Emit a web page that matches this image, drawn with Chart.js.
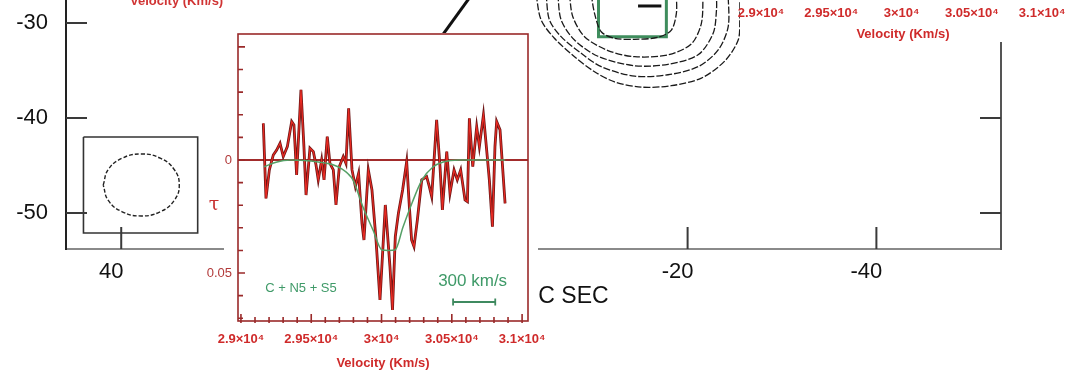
<!DOCTYPE html>
<html>
<head>
<meta charset="utf-8">
<script src="https://cdn.jsdelivr.net/npm/chart.js@4"></script>
<style>
  body { margin: 0; background: #fff; width: 1082px; height: 373px; overflow: hidden; position: relative; }
  canvas { position: absolute; }
  #map { left: 0; top: 0; }
  #spec { left: 200px; top: 20px; }
  #specTop { left: 720px; top: -306px; }
  #cutTitle { position: absolute; left: 130px; top: -7px; font: bold 13px "Liberation Sans", sans-serif; color: #d03434; white-space: nowrap; }
</style>
</head>
<body>
<canvas id="map" width="1082" height="373"></canvas>
<canvas id="spec" width="345" height="353"></canvas>
<canvas id="specTop" width="362" height="353"></canvas>
<div id="cutTitle">Velocity (Km/s)</div>
<script>
// ---- spectrum: velocity (km/s) vs optical depth tau ----
const velocity = [29159, 29178, 29202, 29230, 29254, 29278, 29301, 29330, 29361, 29377,
  29396, 29427, 29448, 29463, 29491, 29515, 29534, 29550, 29574, 29591,
  29614, 29633, 29657, 29676, 29700, 29728, 29747, 29766, 29790, 29814,
  29837, 29861, 29875, 29906, 29932, 29961, 29989, 30027, 30060, 30078,
  30098, 30120, 30150, 30179, 30198, 30214, 30231, 30255, 30286, 30321,
  30340, 30357, 30392, 30416, 30433, 30464, 30487, 30516, 30539, 30563,
  30594, 30611, 30625, 30649, 30677, 30696, 30725, 30748, 30767, 30789,
  30807, 30819, 30843, 30879];
const tau = [-0.0162, 0.0170, 0.0044, -0.0022, -0.0044, -0.0074, -0.0015, -0.0059, -0.0170, -0.0155,
  0.0066, -0.0310, -0.0059, 0.0155, -0.0052, -0.0037, 0.0022, 0.0088, 0.0000, 0.0088,
  -0.0103, 0.0015, 0.0044, 0.0199, 0.0029, -0.0015, 0.0015, -0.0228, 0.0044, 0.0118,
  0.0059, 0.0280, 0.0354, 0.0044, 0.0133, 0.0354, 0.0619, 0.0199, 0.0472, 0.0663,
  0.0339, 0.0236, 0.0133, 0.0007, 0.0206, 0.0354, 0.0383, 0.0265, 0.0088, 0.0074,
  0.0118, 0.0162, -0.0177, 0.0029, 0.0221, -0.0037, 0.0147, 0.0044, 0.0088, 0.0044,
  0.0177, 0.0184, -0.0184, 0.0029, -0.0147, -0.0059, -0.0199, -0.0044, 0.0088, 0.0295,
  -0.0059, -0.0170, -0.0133, 0.0192];

// fitted profile (C + N5 + S5)
const fitVelocity = [29165, 29250, 29350, 29500, 29650, 29720, 29760, 29797, 29868, 29939,
  30003, 30050, 30096, 30153, 30217, 30288, 30366, 30438, 30550, 30700, 30880];
const fitTau = [0.003, 0.001, 0.0, 0.0005, 0.002, 0.004, 0.006, 0.0088, 0.0208, 0.0309,
  0.0398, 0.0400, 0.0398, 0.0296, 0.0190, 0.0088, 0.0031, 0.0009, 0.0, 0.0, 0.0];

// 300 km/s scale bar
const barVelocity = [30509, 30809];
const barTau = [0.0628, 0.0628];

// spectrum axes
const velTicks = [29000, 29100, 29200, 29300, 29400, 29500, 29600, 29700, 29800, 29900,
  30000, 30100, 30200, 30300, 30400, 30500, 30600, 30700, 30800, 30900, 31000];
const velMajor = [29000, 29500, 30000, 30500, 31000];
const velLabels = ['2.9×10⁴', '2.95×10⁴', '3×10⁴', '3.05×10⁴', '3.1×10⁴'];
const tauTicks = [-0.05, -0.04, -0.03, -0.02, -0.01, 0, 0.01, 0.02, 0.03, 0.04, 0.05, 0.06, 0.07];
const tauMajor = [-0.05, 0, 0.05];
const tauLabels = ['', '0', '0.05'];

// ---- background map (arc sec) ----
const mapXTicks = [40, 20, 0, -20, -40];
const mapYTicks = [-30, -40, -50];
const beamBox = [[44.0, -42.0], [31.9, -42.0], [31.9, -52.1], [44.0, -52.1], [44.0, -42.0]];
const beamEllipse = [[41.91, -47.05], [41.37, -45.42], [39.90, -44.23], [37.88, -43.79], [35.87, -44.23],
  [34.39, -45.42], [33.85, -47.05], [34.39, -48.68], [35.87, -49.87], [37.88, -50.31],
  [39.90, -49.87], [41.37, -48.68], [41.91, -47.05]];
const contour1 = [[-3.95, -27.0], [-4.48, -29.68], [-5.89, -31.61], [-8.02, -33.55], [-10.14, -35.13],
  [-12.26, -36.2], [-15.10, -36.75], [-18.28, -36.6], [-21.46, -35.8], [-23.94, -34.0],
  [-25.36, -31.79], [-25.53, -29.68], [-25.53, -27.0]];
const contour2 = [[-5.01, -27.0], [-5.36, -29.68], [-6.60, -31.44], [-8.73, -33.19], [-10.85, -34.6],
  [-14.39, -35.6], [-17.93, -35.45], [-21.11, -34.6], [-23.24, -32.84], [-24.30, -30.39], [-24.30, -27.0]];
const contour3 = [[-6.25, -27.0], [-6.60, -29.68], [-8.02, -31.79], [-10.50, -33.5], [-14.39, -34.5],
  [-17.93, -34.35], [-21.11, -33.35], [-22.71, -31.08], [-23.06, -28.63], [-23.06, -27.0]];
const contour4 = [[-7.48, -27.0], [-7.84, -29.34], [-9.08, -31.44], [-11.56, -32.9], [-14.39, -33.55],
  [-17.93, -33.35], [-20.40, -32.2], [-21.46, -30.03], [-21.64, -27.0]];
const contour5 = [[-9.79, -27.0], [-10.14, -28.98], [-10.85, -30.92], [-12.26, -31.61], [-14.39, -31.72],
  [-16.87, -31.51], [-18.28, -30.74], [-18.81, -28.98], [-18.81, -27.0]];
const greenBox = [[-10.56, -27.0], [-10.56, -31.44], [-17.75, -31.44], [-17.75, -27.0]];
const pointerLine = [[6.2, -31.6], [3.0, -27.2]];
const peakBar = [[-14.75, -28.21], [-17.22, -28.21]];

const pairs = (xs, ys) => xs.map((v, i) => ({ x: v, y: ys[i] }));
const pts = list => list.map(p => ({ x: p[0], y: p[1] }));
const near = (a, b) => Math.abs(a - b) < 1e-9;
// stop label overhang from shrinking the plot area
const noPad = s => { s.paddingLeft = 0; s.paddingRight = 0; s.paddingTop = 0; s.paddingBottom = 0; };

// map: inward ticks + axis title
const mapDeco = {
  id: 'mapDeco',
  afterDraw(chart) {
    const { ctx, chartArea: a, scales: { x, y } } = chart;
    ctx.save();
    ctx.strokeStyle = '#3a3a3a';
    ctx.lineWidth = 2;
    ctx.beginPath();
    mapXTicks.forEach(v => {
      const px = x.getPixelForValue(v);
      ctx.moveTo(px, a.bottom);
      ctx.lineTo(px, a.bottom - 22);
    });
    mapYTicks.forEach(v => {
      const py = y.getPixelForValue(v);
      ctx.moveTo(a.left, py);
      ctx.lineTo(a.left + 21, py);
      ctx.moveTo(a.right, py);
      ctx.lineTo(a.right - 21, py);
    });
    ctx.stroke();
    ctx.font = '23px "Liberation Sans", sans-serif';
    ctx.fillStyle = '#111';
    ctx.textAlign = 'center';
    ctx.textBaseline = 'middle';
    ctx.fillText('ARC SEC', (a.left + a.right) / 2 + 24, a.bottom + 48);
    ctx.restore();
  }
};

const mapLine = (list, color, width) => ({
  data: pts(list), showLine: true, borderColor: color, borderWidth: width, pointRadius: 0
});

new Chart(document.getElementById('map'), {
  type: 'scatter',
  data: {
    datasets: [
      mapLine(beamBox, '#333', 1.6),
      { ...mapLine(beamEllipse, '#222', 1.4), tension: 0.45, borderDash: [4, 2] },
      ...[contour1, contour2, contour3, contour4, contour5].map(c => ({ ...mapLine(c, '#1a1a1a', 1.3), tension: 0.3, borderDash: [7, 2] })),
      mapLine(greenBox, '#3f8d5d', 3),
      mapLine(pointerLine, '#111', 3),
      mapLine(peakBar, '#111', 3)
    ]
  },
  options: {
    responsive: false,
    animation: false,
    devicePixelRatio: 1,
    layout: { padding: 0 },
    plugins: { legend: { display: false }, tooltip: { enabled: false } },
    scales: {
      x: {
        type: 'linear', reverse: true, min: -53.2, max: 45.85,
        afterBuildTicks: s => { s.ticks = mapXTicks.map(v => ({ value: v })); },
        afterFit: s => { s.height = 124; noPad(s); },
        grid: { color: 'rgba(0,0,0,0)', drawTicks: false },
        border: { color: '#8a8a8a', width: 2 },
        ticks: { padding: 10, labelOffset: -10, autoSkip: false, maxRotation: 0, color: '#111',
          font: { family: 'Liberation Sans', size: 22 }, callback: v => String(v) }
      },
      y: {
        type: 'linear', position: 'left', min: -53.79, max: -27.58,
        afterBuildTicks: s => { s.ticks = mapYTicks.map(v => ({ value: v })); },
        afterFit: s => { s.width = 66; noPad(s); },
        grid: { color: 'rgba(0,0,0,0)', drawTicks: false },
        border: { color: '#222', width: 2 },
        ticks: { padding: 18, autoSkip: false, color: '#111',
          font: { family: 'Liberation Sans', size: 22 }, callback: v => String(v) }
      },
      y2: {
        type: 'linear', position: 'right', min: -53.79, max: -27.58,
        afterFit: s => { s.width = 81; noPad(s); },
        grid: { display: false, drawTicks: false },
        border: { color: '#555', width: 2 },
        ticks: { display: false }
      }
    }
  },
  plugins: [mapDeco]
});

// spectrum panel: white backing, frame, inward ticks, notes
function spectrumDeco(white) {
  return {
    id: 'specDeco',
    beforeDraw(chart) {
      const ctx = chart.ctx;
      ctx.save();
      ctx.fillStyle = '#fff';
      ctx.fillRect(white[0], white[1], white[2], white[3]);
      ctx.restore();
    },
    afterDraw(chart) {
      const { ctx, chartArea: a, scales: { x, y } } = chart;
      ctx.save();
      ctx.strokeStyle = '#9a2a2a';
      ctx.lineWidth = 1.6;
      ctx.strokeRect(a.left, a.top, a.right - a.left, a.bottom - a.top);
      ctx.beginPath();
      velTicks.forEach(v => {
        const px = x.getPixelForValue(v);
        const len = velMajor.includes(v) ? 7 : 4;
        ctx.moveTo(px, a.bottom + 2);
        ctx.lineTo(px, a.bottom - len);
      });
      tauTicks.forEach(v => {
        const py = y.getPixelForValue(v);
        const len = tauMajor.some(m => near(m, v)) ? 7 : 5;
        ctx.moveTo(a.left, py);
        ctx.lineTo(a.left + len, py);
      });
      ctx.stroke();

      ctx.textAlign = 'center';
      ctx.textBaseline = 'middle';
      ctx.fillStyle = '#3f9a68';
      ctx.font = '13px "Liberation Sans", sans-serif';
      ctx.fillText('C + N5 + S5', x.getPixelForValue(29427), y.getPixelForValue(0.057));
      ctx.font = '17px "Liberation Sans", sans-serif';
      ctx.fillText('300 km/s', x.getPixelForValue(30648), y.getPixelForValue(0.0535));
      ctx.fillStyle = '#c83030';
      ctx.font = '19px "DejaVu Serif", serif';
      ctx.fillText('τ', a.left - 24, y.getPixelForValue(0.02));
      ctx.restore();
    }
  };
}

function buildSpectrum(id, white, padRight, titleGap) {
  return new Chart(document.getElementById(id), {
    type: 'scatter',
    data: {
      datasets: [
        { data: pairs(fitVelocity, fitTau), showLine: true, borderColor: '#55a066', borderWidth: 1.5,
          cubicInterpolationMode: 'monotone', pointRadius: 0, order: 0 },
        { data: pairs(barVelocity, barTau), showLine: true, borderColor: '#3f8a60', borderWidth: 1.8,
          pointStyle: 'line', pointRadius: 3.5, rotation: 90, pointBorderColor: '#3f8a60', pointBorderWidth: 1.8, order: 0 },
        { data: pairs(velocity, tau), showLine: true, borderColor: '#ea2a22', borderWidth: 1.2, pointRadius: 0, order: 1 },
        { data: pairs(velocity, tau), showLine: true, borderColor: '#6e1616', borderWidth: 2.8, pointRadius: 0, order: 2 }
      ]
    },
    options: {
      responsive: false,
      animation: false,
      devicePixelRatio: 1,
      layout: { padding: { left: 0, top: 14, right: padRight, bottom: 0 } },
      plugins: { legend: { display: false }, tooltip: { enabled: false } },
      scales: {
        x: {
          type: 'linear', min: 28979, max: 31042,
          afterBuildTicks: s => { s.ticks = velTicks.map(v => ({ value: v })); },
          afterFit: s => { s.height = 52; noPad(s); },
          grid: { display: false, drawTicks: false },
          border: { display: false },
          ticks: { padding: 11, autoSkip: false, maxRotation: 0, color: '#cf2a2a',
            font: { family: 'Liberation Sans', size: 13, weight: 'bold' },
            callback: v => { const i = velMajor.indexOf(v); return i < 0 ? '' : velLabels[i]; } },
          title: { display: true, text: 'Velocity (Km/s)', color: '#cf2a2a',
            font: { family: 'Liberation Sans', size: 13, weight: 'bold' }, padding: { top: 0, bottom: titleGap } }
        },
        y: {
          type: 'linear', reverse: true, min: -0.0557, max: 0.0712,
          afterBuildTicks: s => { s.ticks = tauTicks.map(v => ({ value: v })); },
          afterFit: s => { s.width = 38; noPad(s); },
          grid: { drawTicks: false, lineWidth: 2,
            color: c => (c.tick && near(c.tick.value, 0)) ? '#a22c2c' : 'rgba(0,0,0,0)' },
          border: { display: false },
          ticks: { padding: 6, autoSkip: false, color: '#b23a3a',
            font: { family: 'Liberation Sans', size: 13 },
            callback: v => { const i = tauMajor.findIndex(m => near(m, v)); return i < 0 ? '' : tauLabels[i]; } }
        }
      }
    },
    plugins: [spectrumDeco(white)]
  });
}

buildSpectrum('spec', [24, 13, 314, 340], 17, 2);
buildSpectrum('specTop', [20, 0, 342, 348], 34, 5);
</script>
</body>
</html>
